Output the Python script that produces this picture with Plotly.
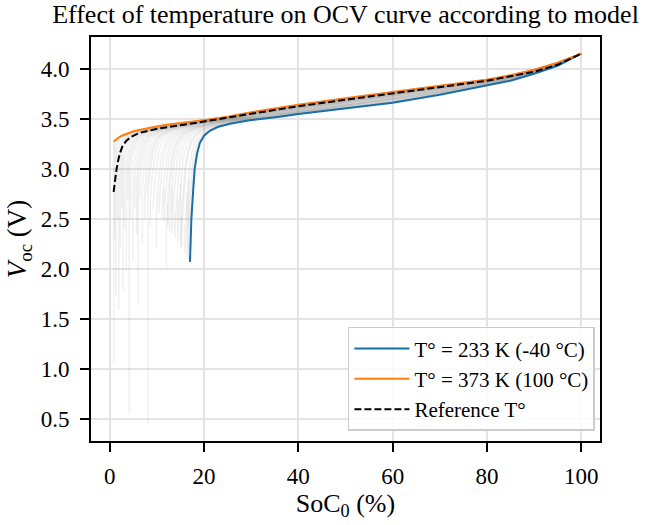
import numpy as np
import plotly.graph_objects as go

# ---- data ----
blue_soc = [17.0, 17.3, 17.7, 18.0, 18.5, 19.1, 20.0, 21.2, 23.0, 25.5, 29.0, 33.0, 36.0, 40.0,
            50.0, 60.0, 70.0, 80.0, 85.0, 90.0, 95.0, 100.0]
blue_v = [2.07, 2.50, 2.80, 3.00, 3.15, 3.26, 3.33, 3.38, 3.42, 3.45, 3.48, 3.50, 3.52, 3.547,
          3.60, 3.66, 3.74, 3.83, 3.88, 3.95, 4.03, 4.15]

orange_soc = [0.8, 1.5, 2.5, 3.5, 5.0, 8.5, 12.0, 19.0, 25.0, 30.0, 40.0, 50.0, 60.0, 70.0,
              80.0, 85.0, 90.0, 95.0, 100.0]
orange_v = [3.27, 3.30, 3.33, 3.35, 3.375, 3.41, 3.44, 3.48, 3.52, 3.565, 3.64, 3.705, 3.77,
            3.83, 3.89, 3.935, 3.99, 4.06, 4.15]

ref_soc = [0.8, 1.1, 1.4, 1.8, 2.1, 2.7, 3.5, 4.5, 6.4, 10.6, 15.0, 19.0, 30.0, 40.0, 50.0,
           60.0, 70.0, 80.0, 90.0, 95.0, 100.0]
ref_v = [2.77, 2.90, 2.99, 3.09, 3.15, 3.23, 3.28, 3.32, 3.36, 3.405, 3.44, 3.465, 3.55, 3.625,
         3.69, 3.755, 3.82, 3.88, 3.97, 4.04, 4.15]

# start point (lowest end) of each intermediate-temperature curve
grey_soc0 = [0.85, 1.0, 1.3, 1.6, 1.9, 2.2, 2.5, 2.8, 3.1, 3.5, 3.8, 4.1, 4.4, 4.9, 5.3, 5.7,
             6.0, 6.4, 6.9, 7.4, 7.8, 8.1, 8.6, 9.2, 9.9, 10.4, 11.0, 11.5, 12.0, 12.3, 12.7,
             13.2, 13.8, 14.4, 15.0, 15.2, 15.9, 16.4, 16.7]
grey_v0 = [1.07, 2.30, 1.74, 2.50, 1.59, 2.20, 2.60, 1.79, 2.40, 1.99, 2.70, 0.55, 2.50, 2.08,
           2.60, 2.35, 1.64, 2.70, 2.24, 2.50, 2.80, 0.45, 2.43, 2.60, 2.21, 2.75, 2.53, 2.80,
           2.00, 2.65, 2.37, 2.80, 2.57, 2.70, 2.85, 2.52, 2.45, 2.75, 2.90]

x_ticks = [0, 20, 40, 60, 80, 100]
y_ticks = [0.5, 1.0, 1.5, 2.0, 2.5, 3.0, 3.5, 4.0]

names = ["T° = 233 K (-40 °C)", "T° = 373 K (100 °C)", "Reference T°"]

# ---- build figure ----
bs = np.array(blue_soc); bv = np.array(blue_v)
os_ = np.array(orange_soc); ov = np.array(orange_v)
bu = (bs - bs[0]) / (100 - bs[0])
ou = (os_ - os_[0]) / (100 - os_[0])
ug = np.union1d(bu, ou)
vb_g = np.interp(ug, bu, bv)
vo_g = np.interp(ug, ou, ov)

fig = go.Figure()
for s0, v0 in zip(grey_soc0, grey_v0):
    t = (bs[0] - s0) / (bs[0] - os_[0])
    v = (1 - t) * vb_g + t * vo_g
    x = s0 + ug * (100 - s0)
    xs = np.concatenate([[s0], x])
    ys = np.concatenate([[v0], v])
    fig.add_trace(go.Scatter(x=xs, y=ys, mode="lines", showlegend=False, hoverinfo="skip",
                             line=dict(color="rgba(140,140,140,0.13)", width=1.5)))

fig.add_trace(go.Scatter(x=blue_soc, y=blue_v, mode="lines", name=names[0],
                         line=dict(color="#1a6ea8", width=2)))
fig.add_trace(go.Scatter(x=orange_soc, y=orange_v, mode="lines", name=names[1],
                         line=dict(color="#ff7f0e", width=2)))
fig.add_trace(go.Scatter(x=ref_soc, y=ref_v, mode="lines", name=names[2],
                         line=dict(color="black", width=2, dash="7px,3px")))

serif = "Liberation Serif, Times New Roman, serif"
axis_common = dict(showline=True, linecolor="black", linewidth=2, mirror=True,
                   ticks="outside", ticklen=9, tickwidth=1.5, tickcolor="black",
                   showgrid=True, gridcolor="#e4e4e4", gridwidth=1.5, zeroline=False,
                   tickfont=dict(family=serif, size=23, color="black"))

fig.update_layout(
    width=647, height=525,
    margin=dict(l=91, r=47, t=37, b=81),
    paper_bgcolor="white", plot_bgcolor="white",
    font=dict(family=serif, color="black"),
    title=dict(text="Effect of temperature on OCV curve according to model",
               x=0.5, xref="paper", xanchor="center",
               y=1 - 14 / 525, yref="container", yanchor="middle",
               font=dict(family=serif, size=26, color="black")),
    xaxis=dict(range=[-4.0, 104.0], tickvals=x_ticks, ticklabelstandoff=4,
               title=dict(text="SoC<sub>0</sub> (%)", font=dict(family=serif, size=26), standoff=6),
               **axis_common),
    yaxis=dict(range=[0.28, 4.317], tickvals=y_ticks, tickformat=".1f", ticklabelstandoff=6,
               title=dict(text="<i>V</i><sub>oc</sub> (V)", font=dict(family=serif, size=27), standoff=6),
               **axis_common),
    legend=dict(x=0.99, y=0.025, xanchor="right", yanchor="bottom",
                bgcolor="rgba(255,255,255,0.85)", bordercolor="#cccccc", borderwidth=1.5,
                itemwidth=55,
                font=dict(family=serif, size=21, color="black"), tracegroupgap=2),
)

fig.write_html("out.html", config={"displayModeBar": False},
               post_script="document.body.style.margin='0';")
